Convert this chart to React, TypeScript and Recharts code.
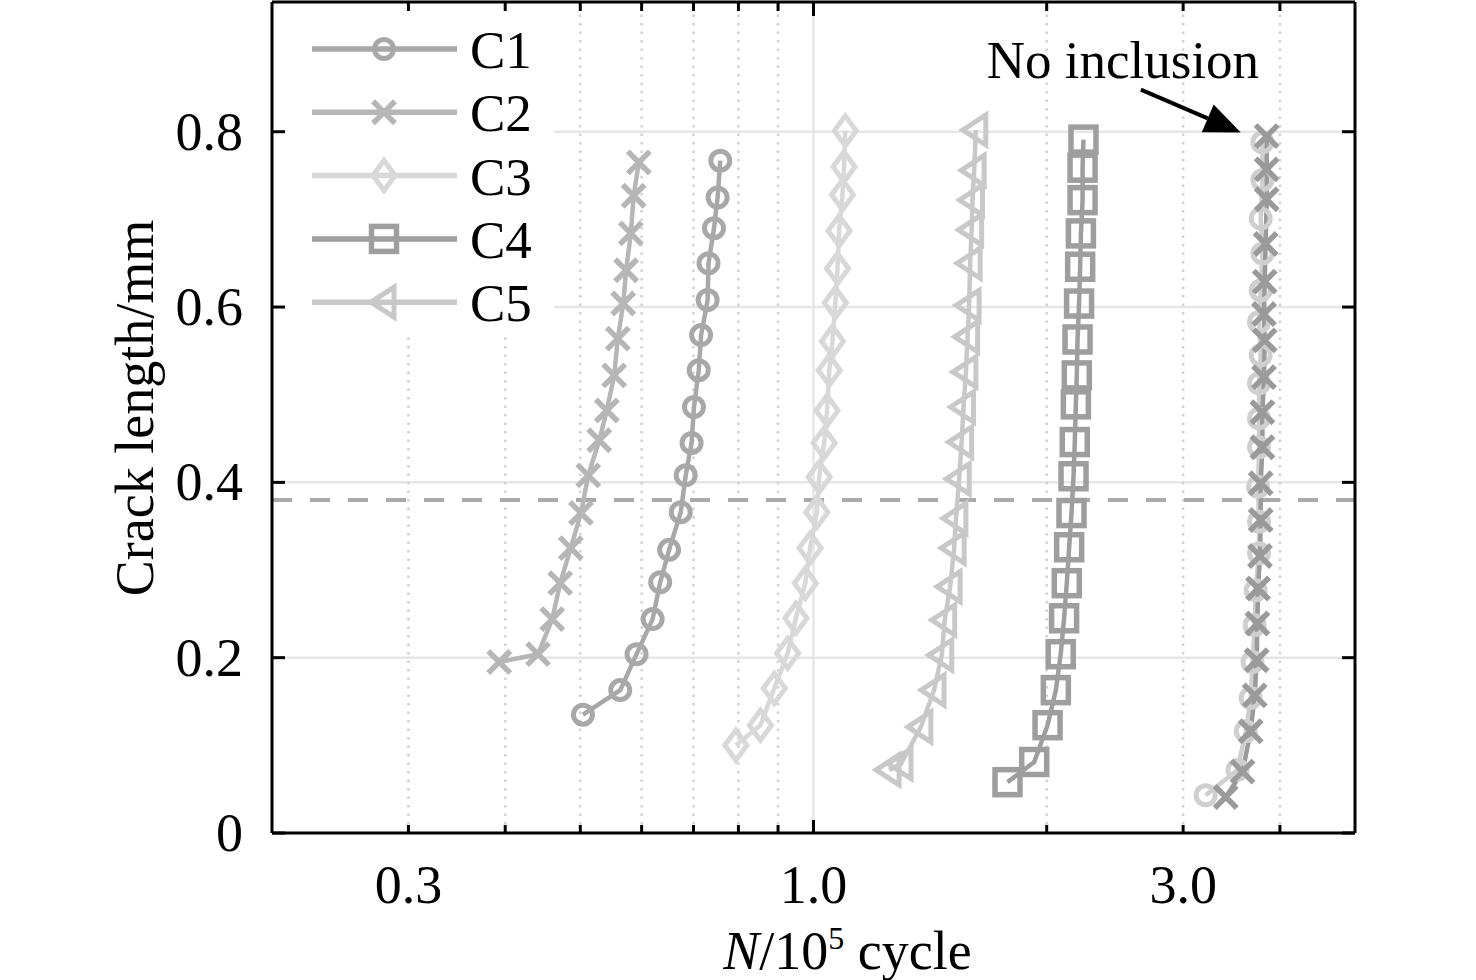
import React from "react";
import { LineChart, Line, XAxis, YAxis, ReferenceLine, Legend } from "recharts";

const FONT = '"Liberation Serif", "Times New Roman", serif';

// crack length (mm) vs cycles (x1e5), read bottom to top
const c1Cycles = [0.504, 0.563, 0.591, 0.62, 0.634, 0.651, 0.674, 0.684, 0.696, 0.701, 0.711, 0.716, 0.73, 0.732, 0.744, 0.752, 0.758];
const c1Length = [0.135, 0.163, 0.204, 0.244, 0.286, 0.323, 0.366, 0.408, 0.445, 0.486, 0.528, 0.568, 0.608, 0.65, 0.69, 0.725, 0.767];

const c2Cycles = [0.393, 0.441, 0.46, 0.471, 0.486, 0.501, 0.512, 0.529, 0.541, 0.553, 0.559, 0.568, 0.573, 0.581, 0.586, 0.595];
const c2Length = [0.195, 0.204, 0.244, 0.285, 0.325, 0.365, 0.408, 0.448, 0.482, 0.522, 0.564, 0.604, 0.642, 0.684, 0.727, 0.765];

const c3Cycles = [0.794, 0.854, 0.89, 0.926, 0.949, 0.976, 0.99, 1.01, 1.017, 1.032, 1.041, 1.048, 1.058, 1.067, 1.074, 1.079, 1.09, 1.095, 1.099];
const c3Length = [0.1, 0.123, 0.165, 0.205, 0.245, 0.285, 0.325, 0.366, 0.406, 0.445, 0.482, 0.528, 0.561, 0.605, 0.644, 0.687, 0.728, 0.76, 0.801];

const c4Cycles = [1.78, 1.927, 2.005, 2.055, 2.085, 2.106, 2.123, 2.138, 2.153, 2.166, 2.174, 2.181, 2.187, 2.192, 2.202, 2.209, 2.214, 2.225, 2.225, 2.231];
const c4Length = [0.058, 0.081, 0.123, 0.163, 0.204, 0.245, 0.285, 0.326, 0.365, 0.407, 0.446, 0.489, 0.522, 0.563, 0.604, 0.646, 0.684, 0.722, 0.759, 0.791];

const c5Cycles = [1.252, 1.297, 1.376, 1.431, 1.464, 1.477, 1.501, 1.519, 1.527, 1.542, 1.553, 1.562, 1.573, 1.581, 1.588, 1.593, 1.6, 1.604, 1.612, 1.62];
const c5Length = [0.072, 0.079, 0.121, 0.163, 0.203, 0.243, 0.281, 0.325, 0.359, 0.404, 0.446, 0.486, 0.526, 0.566, 0.602, 0.65, 0.688, 0.722, 0.756, 0.802];

// specimens without inclusion
const n1Cycles = [3.208, 3.526, 3.614, 3.667, 3.687, 3.711, 3.722, 3.759, 3.759, 3.748, 3.759, 3.759, 3.759, 3.778, 3.759, 3.778, 3.797, 3.778, 3.797, 3.797];
const n1Length = [0.043, 0.072, 0.116, 0.154, 0.195, 0.237, 0.277, 0.319, 0.355, 0.395, 0.44, 0.473, 0.513, 0.545, 0.583, 0.619, 0.661, 0.701, 0.745, 0.788];

const n2Cycles = [3.405, 3.579, 3.667, 3.711, 3.733, 3.741, 3.748, 3.77, 3.778, 3.778, 3.797, 3.797, 3.815, 3.823, 3.815, 3.823, 3.834, 3.846, 3.846, 3.846];
const n2Length = [0.041, 0.07, 0.116, 0.157, 0.197, 0.239, 0.279, 0.316, 0.357, 0.399, 0.44, 0.48, 0.52, 0.562, 0.592, 0.629, 0.672, 0.723, 0.757, 0.795];

const xTicks = [0.3, 0.4, 0.5, 0.6, 0.7, 0.8, 0.9, 1, 2, 3, 4];
const xTickLabels: Record<string, string> = { "0.3": "0.3", "1": "1.0", "3": "3.0" };
const yTicks = [0, 0.2, 0.4, 0.6, 0.8];
const yTickLabels = ["0", "0.2", "0.4", "0.6", "0.8"];
const xDomain = [0.2, 5];
const yDomain = [0, 0.948];

const gridYFull = [0.2, 0.4];
const gridYCut = [0.6, 0.8];
const gridXDottedCut = [0.3, 0.4];
const gridXDotted = [0.5, 0.6, 0.7, 0.8, 0.9, 2, 3, 4];
const gridXSolid = [1];
const legendEdge = { x: 0.4624, y: 0.568 };
const threshold = 0.38;
const arrowFrom = { x: 2.646, y: 0.848 };
const arrowTo = { x: 3.561, y: 0.799 };

type Kind = "circle" | "cross" | "diamond" | "square" | "triangle";

const series: { name: string; cycles: number[]; lengths: number[]; color: string; kind: Kind; legend: boolean }[] = [
  { name: "C1", cycles: c1Cycles, lengths: c1Length, color: "#a8a8a8", kind: "circle", legend: true },
  { name: "C2", cycles: c2Cycles, lengths: c2Length, color: "#b6b6b6", kind: "cross", legend: true },
  { name: "C3", cycles: c3Cycles, lengths: c3Length, color: "#d8d8d8", kind: "diamond", legend: true },
  { name: "C4", cycles: c4Cycles, lengths: c4Length, color: "#9e9e9e", kind: "square", legend: true },
  { name: "C5", cycles: c5Cycles, lengths: c5Length, color: "#c8c8c8", kind: "triangle", legend: true },
  { name: "N1", cycles: n1Cycles, lengths: n1Length, color: "#cfcfcf", kind: "circle", legend: false },
  { name: "N2", cycles: n2Cycles, lengths: n2Length, color: "#9a9a9a", kind: "cross", legend: false },
];

function Marker({ cx, cy, kind, color }: { cx: number; cy: number; kind: Kind; color: string }) {
  if (cx == null || cy == null) return null;
  if (kind === "circle")
    return <circle cx={cx} cy={cy} r={9.5} fill="none" stroke={color} strokeWidth={5} />;
  if (kind === "cross")
    return (
      <path
        d={`M${cx - 11},${cy - 11}L${cx + 11},${cy + 11}M${cx - 11},${cy + 11}L${cx + 11},${cy - 11}`}
        stroke={color}
        strokeWidth={5.5}
        fill="none"
      />
    );
  if (kind === "diamond")
    return (
      <polygon
        points={`${cx},${cy - 15} ${cx + 11},${cy} ${cx},${cy + 15} ${cx - 11},${cy}`}
        fill="none"
        stroke={color}
        strokeWidth={5}
      />
    );
  if (kind === "square")
    return <rect x={cx - 12.5} y={cy - 12.5} width={25} height={25} fill="none" stroke={color} strokeWidth={5.5} />;
  return (
    <polygon
      points={`${cx - 13},${cy} ${cx + 10},${cy - 15} ${cx + 10},${cy + 15}`}
      fill="none"
      stroke={color}
      strokeWidth={5}
    />
  );
}

const tickText = { fontFamily: FONT, fontSize: 54, fill: "#000" };

function BottomTick(p: any) {
  const v = p.payload.value;
  const label = xTickLabels[String(v)];
  return (
    <g>
      <line x1={p.x} x2={p.x} y1={p.y} y2={p.y - (v === 1 ? 13 : 8)} stroke="#000" strokeWidth={3} />
      {label && (
        <text x={p.x} y={p.y + 70} textAnchor="middle" style={tickText}>
          {label}
        </text>
      )}
    </g>
  );
}

function TopTick(p: any) {
  const v = p.payload.value;
  return <line x1={p.x} x2={p.x} y1={p.y} y2={p.y + (v === 1 ? 14 : 9)} stroke="#000" strokeWidth={3} />;
}

function LeftTick(p: any) {
  const i = yTicks.indexOf(p.payload.value);
  return (
    <g>
      <line x1={p.x} x2={p.x + 13} y1={p.y} y2={p.y} stroke="#000" strokeWidth={3} />
      <text x={p.x - 29} y={p.y + 18} textAnchor="end" style={tickText}>
        {yTickLabels[i]}
      </text>
    </g>
  );
}

function RightTick(p: any) {
  return <line x1={p.x} x2={p.x - 13} y1={p.y} y2={p.y} stroke="#000" strokeWidth={3} />;
}

function XTitle(props: any) {
  const vb = props.viewBox;
  return (
    <text x={vb.x + vb.width / 2 + 34} y={vb.y + 136} textAnchor="middle" style={tickText}>
      <tspan fontStyle="italic">N</tspan>
      <tspan>/10</tspan>
      <tspan dy={-20} fontSize={32}>5</tspan>
      <tspan dy={20}> cycle</tspan>
    </text>
  );
}

function YTitle(props: any) {
  const vb = props.viewBox;
  const x = vb.x + vb.width - 119;
  const y = 408;
  return (
    <text x={x} y={y} transform={`rotate(-90, ${x}, ${y})`} textAnchor="middle" style={tickText}>
      Crack length/mm
    </text>
  );
}

function Arrow(p: any) {
  const { x1, y1, x2, y2 } = p;
  const dx = x2 - x1;
  const dy = y2 - y1;
  const len = Math.sqrt(dx * dx + dy * dy);
  const ux = dx / len;
  const uy = dy / len;
  const bx = x2 - ux * 36;
  const by = y2 - uy * 36;
  return (
    <g>
      <text x={x1 - 18} y={y1 - 12} textAnchor="middle" style={{ fontFamily: FONT, fontSize: 53, fill: "#000" }}>
        No inclusion
      </text>
      <line x1={x1} y1={y1} x2={bx} y2={by} stroke="#000" strokeWidth={4} />
      <polygon
        points={`${x2},${y2} ${bx - uy * 15},${by + ux * 15} ${bx + uy * 15},${by - ux * 15}`}
        fill="#000"
      />
    </g>
  );
}

function LegendBox() {
  const rows = series.filter((s) => s.legend);
  return (
    <svg width={560} height={345} style={{ display: "block" }}>
      {rows.map((s, i) => {
        const y = 49 + i * 63.3;
        return (
          <g key={s.name}>
            <line x1={312} x2={457} y1={y} y2={y} stroke={s.color} strokeWidth={5.5} />
            <Marker cx={384} cy={y} kind={s.kind} color={s.color} />
            <text x={470} y={y + 19} style={{ fontFamily: FONT, fontSize: 53, fill: "#000" }}>
              {s.name}
            </text>
          </g>
        );
      })}
    </svg>
  );
}

export default function App() {
  const axisLine = { stroke: "#000", strokeWidth: 3 };
  return (
    <div style={{ position: "absolute", left: 0, top: 0, width: 1476, height: 980, background: "#fff", fontFamily: FONT }}>
      <LineChart width={1476} height={980} margin={{ top: 0, right: 120, bottom: 87, left: 192 }}>
        <XAxis
          type="number"
          dataKey="n"
          scale="log"
          domain={xDomain}
          ticks={xTicks}
          interval={0}
          allowDataOverflow
          height={60}
          tickSize={0}
          tickMargin={0}
          tickLine={false}
          axisLine={axisLine}
          tick={BottomTick}
          label={{ content: XTitle }}
        />
        <XAxis
          xAxisId="top"
          orientation="top"
          type="number"
          dataKey="n"
          scale="log"
          domain={xDomain}
          ticks={xTicks}
          interval={0}
          allowDataOverflow
          height={2}
          tickSize={0}
          tickMargin={0}
          tickLine={false}
          axisLine={axisLine}
          tick={TopTick}
        />
        <YAxis
          type="number"
          domain={yDomain}
          ticks={yTicks}
          interval={0}
          allowDataOverflow
          width={80}
          tickSize={0}
          tickMargin={0}
          tickLine={false}
          axisLine={axisLine}
          tick={LeftTick}
          label={{ content: YTitle }}
        />
        <YAxis
          yAxisId="right"
          orientation="right"
          type="number"
          domain={yDomain}
          ticks={yTicks}
          interval={0}
          allowDataOverflow
          width={1}
          tickSize={0}
          tickMargin={0}
          tickLine={false}
          axisLine={axisLine}
          tick={RightTick}
        />

        {gridYFull.map((v) => (
          <ReferenceLine key={`gy${v}`} y={v} stroke="#e6e6e6" strokeWidth={2.5} />
        ))}
        {gridYCut.map((v) => (
          <ReferenceLine
            key={`gc${v}`}
            segment={[{ x: legendEdge.x, y: v }, { x: 5, y: v }]}
            stroke="#e6e6e6"
            strokeWidth={2.5}
          />
        ))}
        {gridXSolid.map((v) => (
          <ReferenceLine key={`gs${v}`} x={v} stroke="#e6e6e6" strokeWidth={2.5} />
        ))}
        {gridXDotted.map((v) => (
          <ReferenceLine key={`gd${v}`} x={v} stroke="#d2d2d2" strokeWidth={2.5} strokeDasharray="2.5 6" />
        ))}
        {gridXDottedCut.map((v) => (
          <ReferenceLine
            key={`gdc${v}`}
            segment={[{ x: v, y: 0 }, { x: v, y: legendEdge.y }]}
            stroke="#d2d2d2"
            strokeWidth={2.5}
            strokeDasharray="2.5 6"
          />
        ))}
        <ReferenceLine y={threshold} stroke="#a9a9a9" strokeWidth={4} strokeDasharray="20 18" />

        {series.map((s) => (
          <Line
            key={s.name}
            data={s.cycles.map((n, i) => ({ n, a: s.lengths[i] }))}
            dataKey="a"
            name={s.name}
            type="linear"
            stroke={s.color}
            strokeWidth={4.5}
            isAnimationActive={false}
            legendType="none"
            dot={(p: any) => <Marker key={`${s.name}-${p.index}`} cx={p.cx} cy={p.cy} kind={s.kind} color={s.color} />}
            activeDot={false}
          />
        ))}

        <ReferenceLine segment={[arrowFrom, arrowTo]} ifOverflow="visible" shape={Arrow} />

        <Legend
          layout="vertical"
          align="center"
          verticalAlign="middle"
          wrapperStyle={{ left: 0, top: 0, width: 560, height: 345, pointerEvents: "none" }}
          content={() => <LegendBox />}
        />
      </LineChart>
    </div>
  );
}
